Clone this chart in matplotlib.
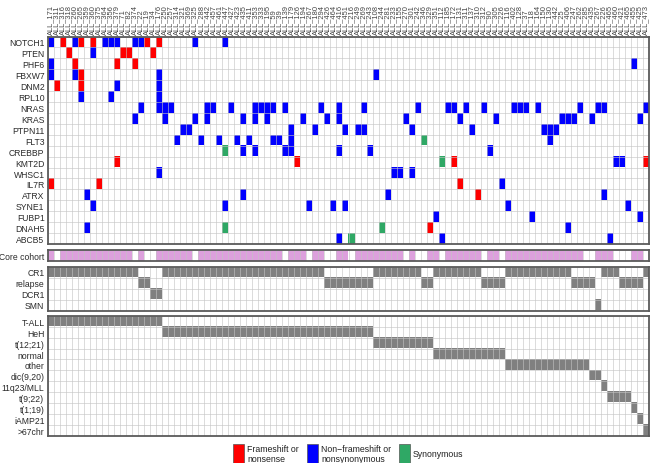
import numpy as np
import matplotlib.pyplot as plt
from matplotlib.colors import ListedColormap
from matplotlib.patches import Rectangle

plt.rcParams['font.family'] = ['Liberation Sans', 'DejaVu Sans']

# sample ids (column order of the figure)
samples = ['ALL_171', 'ALL_311', 'ALL_316', 'ALL_318', 'ALL_260', 'ALL_265', 'ALL_359', 'ALL_360', 'ALL_375', 'ALL_364',
           'ALL_356', 'ALL_379', 'ALL_71', 'ALL_82', 'ALL_374', 'ALL_22', 'ALL_19', 'ALL_34', 'ALL_176', 'ALL_250',
           'ALL_257', 'ALL_314', 'ALL_321', 'ALL_369', 'ALL_325', 'ALL_288', 'ALL_442', 'ALL_457', 'ALL_461', 'ALL_447',
           'ALL_427', 'ALL_423', 'ALL_435', 'ALL_411', 'ALL_353', 'ALL_333', 'ALL_195', 'ALL_59', 'ALL_39', 'ALL_139',
           'ALL_179', 'ALL_126', 'ALL_194', 'ALL_267', 'ALL_180', 'ALL_294', 'ALL_426', 'ALL_464', 'ALL_416', 'ALL_451',
           'ALL_216', 'ALL_249', 'ALL_269', 'ALL_243', 'ALL_108', 'ALL_244', 'ALL_281', 'ALL_233', 'ALL_155', 'ALL_270',
           'ALL_301', 'ALL_242', 'ALL_346', 'ALL_329', 'ALL_351', 'ALL_112', 'ALL_185', 'ALL_172', 'ALL_131', 'ALL_311',
           'ALL_137', 'ALL_310', 'ALL_312', 'ALL_90', 'ALL_305', 'ALL_226', 'ALL_116', 'ALL_402', 'ALL_128', 'ALL_37',
           'ALL_18', 'ALL_164', 'ALL_150', 'ALL_130', 'ALL_442', 'ALL_25', 'ALL_406', 'ALL_247', 'ALL_262', 'ALL_285',
           'ALL_435', 'ALL_267', 'ALL_226', 'ALL_465', 'ALL_460', 'ALL_421', 'ALL_465', 'ALL_455', 'ALL_425', 'ALL_473']

genes = ['NOTCH1', 'PTEN', 'PHF6', 'FBXW7', 'DNM2', 'RPL10', 'NRAS', 'KRAS', 'PTPN11', 'FLT3',
         'CREBBP', 'KMT2D', 'WHSC1', 'IL7R', 'ATRX', 'SYNE1', 'FUBP1', 'DNAH5', 'ABCB5']

# mutated sample indices per gene and class
frameshift = {'NOTCH1': [2, 5, 7, 16, 18], 'PTEN': [3, 12, 13, 17], 'PHF6': [4, 11, 14],
              'FBXW7': [5], 'DNM2': [1, 5], 'KMT2D': [11, 41, 67, 99], 'IL7R': [0, 8, 68],
              'ATRX': [71], 'DNAH5': [63]}
nonframeshift = {'NOTCH1': [0, 4, 9, 10, 11, 14, 15, 24, 29], 'PTEN': [7], 'PHF6': [0, 97],
                 'FBXW7': [0, 4, 18, 54], 'DNM2': [11, 18], 'RPL10': [5, 10, 18],
                 'NRAS': [15, 18, 19, 20, 26, 27, 30, 34, 35, 36, 37, 39, 45, 48, 52, 61, 66, 67, 69,
                          72, 77, 78, 79, 81, 88, 91, 92, 99],
                 'KRAS': [14, 19, 24, 26, 32, 34, 36, 42, 46, 48, 59, 68, 74, 85, 86, 87, 90, 98],
                 'PTPN11': [22, 23, 40, 44, 49, 51, 52, 60, 70, 82, 83, 84],
                 'FLT3': [21, 25, 28, 31, 33, 37, 38, 40, 83],
                 'CREBBP': [32, 34, 39, 40, 48, 53, 73], 'KMT2D': [94, 95],
                 'WHSC1': [18, 57, 58, 60], 'IL7R': [75], 'ATRX': [6, 32, 56, 92],
                 'SYNE1': [7, 29, 43, 47, 49, 76, 96], 'FUBP1': [64, 80, 98],
                 'DNAH5': [6, 86], 'ABCB5': [48, 65, 93]}
synonymous = {'FLT3': [62], 'CREBBP': [29], 'KMT2D': [65], 'DNAH5': [29, 55], 'ABCB5': [50]}

# 1 = sample in core cohort
core = '1011111111111101001111110111111111111110111011001101111111101001101111110110111111111111100111000110'

status_names = ['CR1', 'relapse', 'DCR1', 'SMN']
# C=CR1, R=relapse, D=DCR1, S=SMN
status = 'CCCCCCCCCCCCCCCRRDDCCCCCCCCCCCCCCCCCCCCCCCCCCCRRRRRRRRCCCCCCCCRRCCCCCCCCRRRRCCCCCCCCCCCRRRRSCCCRRRRC'

subtypes = ['T-ALL', 'HeH', 't(12;21)', 'normal', 'other', 'dic(9,20)', '11q23/MLL',
            't(9;22)', 't(1;19)', 'iAMP21', '>67chr']
subtype_n = [19, 35, 10, 12, 14, 2, 1, 4, 1, 1, 1]

n = len(samples)
W, H = 650, 464
fig = plt.figure(figsize=(6.5, 4.64), dpi=100)


def panel(y0, y1):
    return fig.add_axes([48 / W, 1 - y1 / H, 601 / W, (y1 - y0) / H])


def draw(ax, mat, colors, labels):
    nr = mat.shape[0]
    ax.imshow(mat, cmap=ListedColormap(colors), vmin=0, vmax=len(colors) - 1,
              aspect='auto', interpolation='nearest', extent=(0, n, nr, 0))
    ax.set_xticks(np.arange(n + 1), minor=True)
    ax.set_yticks(np.arange(nr + 1), minor=True)
    ax.grid(which='minor', color='#c4c4c4', alpha=0.6, lw=0.7)
    ax.tick_params(which='both', length=0)
    ax.set_xticks([])
    ax.set_yticks(np.arange(nr) + 0.5)
    ax.set_yticklabels(labels, fontsize=6.2, color='#2a2a2a')
    ax.tick_params(axis='y', pad=2.5)
    for s in ax.spines.values():
        s.set_color('#5a5a5a')
        s.set_linewidth(1.3)


# mutations
mut = np.zeros((len(genes), n))
for code, d in [(1, frameshift), (2, nonframeshift), (3, synonymous)]:
    for g, idx in d.items():
        mut[genes.index(g), idx] = code
ax1 = panel(37.5, 245)
draw(ax1, mut, ['white', '#ff0000', '#0000ff', '#2fa865'], genes)
ax1.xaxis.set_ticks_position('top')
ax1.set_xticks(np.arange(n) + 0.5)
ax1.set_xticklabels(samples, rotation=90, fontsize=5.4, color='#444444')
ax1.tick_params(axis='x', pad=1.5)

# core cohort
cc = np.array([[int(c) for c in core]])
ax2 = panel(251, 262)
draw(ax2, cc, ['white', '#dda0dd'], ['Core cohort'])

# disease status
st = np.zeros((4, n))
for j, c in enumerate(status):
    st['CRDS'.index(c), j] = 1
ax3 = panel(267.5, 311.5)
draw(ax3, st, ['white', '#808080'], status_names)

# subtype
sb = np.zeros((len(subtypes), n))
start = 0
for i, k in enumerate(subtype_n):
    sb[i, start:start + k] = 1
    start += k
ax4 = panel(317, 436.5)
draw(ax4, sb, ['white', '#808080'], subtypes)

# legend
leg = [('#ff0000', 'Frameshift or\nnonsense', 233),
       ('#0000ff', 'Non\u2212frameshift or\nnonsynonymous', 307),
       ('#2fa865', 'Synonymous', 399)]
for col, txt, x in leg:
    fig.patches.append(Rectangle((x / W, 1 - 464 / H), 11 / W, 19 / H, transform=fig.transFigure,
                                 facecolor=col, edgecolor='#555555', lw=0.5))
    fig.text((x + 14) / W, 1 - 454.5 / H, txt, fontsize=6.3, va='center', ha='left',
             color='#222222', linespacing=1.1)

fig.savefig('out.png', dpi=100)
